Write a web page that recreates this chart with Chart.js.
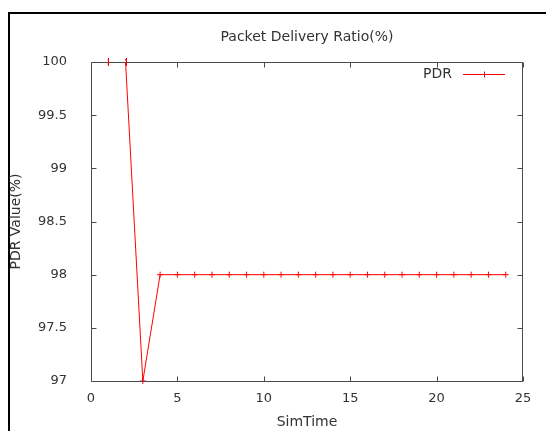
<!DOCTYPE html>
<html>
<head>
<meta charset="utf-8">
<title>Packet Delivery Ratio</title>
<script src="https://cdn.jsdelivr.net/npm/chart.js@4.4.1/dist/chart.umd.min.js"></script>
<style>
  html, body { margin: 0; padding: 0; background: #fff; }
  #wrap { position: relative; width: 546px; height: 431px; overflow: hidden; }
  /* black window edge on top and left, like the screenshot */
  #frame { position: absolute; left: 8px; top: 12px; right: -4px; bottom: -4px;
           border-top: 2px solid #000; border-left: 2px solid #000; }
  #pdrChart { position: absolute; left: 0; top: 0; }
</style>
</head>
<body>
<div id="wrap">
  <div id="frame"></div>
  <canvas id="pdrChart" width="546" height="431"></canvas>
</div>
<script>
// data
const seriesLabel = 'PDR';
const simTime = [1, 2, 3, 4, 5, 6, 7, 8, 9, 10, 11, 12, 13, 14, 15, 16, 17, 18, 19, 20, 21, 22, 23, 24];
const pdrValues = [100, 100, 97, 98, 98, 98, 98, 98, 98, 98, 98, 98, 98, 98, 98, 98, 98, 98, 98, 98, 98, 98, 98, 98];
const xTicks = [0, 5, 10, 15, 20, 25];
const yTicks = [97, 97.5, 98, 98.5, 99, 99.5, 100];

const textColor = '#333';
const borderColor = '#4a4a4a';
const lineColor = '#ff0000';
const fontFamily = '"DejaVu Sans", Verdana, sans-serif';

// gnuplot style border, inward ticks on all four sides and the key
const gnuplotFrame = {
  id: 'gnuplotFrame',
  afterDatasetsDraw(chart) {
    const { ctx, chartArea: a, scales: { x, y } } = chart;
    const L = Math.round(a.left) + 0.5, R = Math.round(a.right) - 0.5;
    const T = Math.round(a.top) + 0.5, B = Math.round(a.bottom) + 0.5;
    const tick = 5;
    ctx.save();
    // the border hides the part of the line that runs along y = 100
    ctx.fillStyle = '#fff';
    ctx.fillRect(L, T - 2, R - L, 2);
    ctx.strokeStyle = borderColor;
    ctx.lineWidth = 1;
    ctx.beginPath();
    ctx.moveTo(L, T); ctx.lineTo(R, T); ctx.lineTo(R, B); ctx.lineTo(L, B); ctx.closePath();
    x.ticks.forEach(t => {
      const px = Math.round(x.getPixelForValue(t.value)) + 0.5;
      ctx.moveTo(px, B); ctx.lineTo(px, B - tick);
      ctx.moveTo(px, T); ctx.lineTo(px, T + tick);
    });
    y.ticks.forEach(t => {
      const py = Math.round(y.getPixelForValue(t.value)) + 0.5;
      ctx.moveTo(L, py); ctx.lineTo(L + tick, py);
      ctx.moveTo(R, py); ctx.lineTo(R - tick, py);
    });
    ctx.stroke();

    // crosses at y = 100 stay visible over the border
    ctx.strokeStyle = lineColor;
    ctx.beginPath();
    chart.getDatasetMeta(0).data.forEach((p, i) => {
      if (pdrValues[i] === 100) {
        const px = Math.round(p.x) + 0.5;
        ctx.moveTo(px, p.y - 4); ctx.lineTo(px, p.y + 4);
      }
    });
    ctx.stroke();

    // key: label text, then the line sample with a cross
    const keyY = 74.5;
    ctx.fillStyle = textColor;
    ctx.font = '14px ' + fontFamily;
    ctx.textAlign = 'right';
    ctx.textBaseline = 'middle';
    ctx.fillText(chart.data.datasets[0].label, 452, keyY);
    ctx.strokeStyle = lineColor;
    ctx.beginPath();
    ctx.moveTo(463, keyY); ctx.lineTo(505, keyY);
    ctx.moveTo(484.5, keyY - 3); ctx.lineTo(484.5, keyY + 3);
    ctx.stroke();
    ctx.restore();
  }
};

const ctx = document.getElementById('pdrChart').getContext('2d');
window.pdrChart = new Chart(ctx, {
  type: 'line',
  data: {
    datasets: [{
      label: seriesLabel,
      data: simTime.map((t, i) => ({ x: t, y: pdrValues[i] })),
      borderColor: lineColor,
      backgroundColor: lineColor,
      borderWidth: 1,
      tension: 0,
      fill: false,
      clip: false,
      pointStyle: 'cross',
      pointRadius: 3,
      pointBorderWidth: 1,
      pointBorderColor: lineColor
    }]
  },
  options: {
    responsive: false,
    animation: false,
    layout: { padding: { left: 0, right: 23, top: 0, bottom: 0 } },
    plugins: {
      legend: { display: false },
      tooltip: { enabled: false },
      title: {
        display: true,
        text: 'Packet Delivery Ratio(%)',
        fullSize: false,
        color: textColor,
        font: { family: fontFamily, size: 14, weight: 'normal' },
        padding: { top: 28.5, bottom: 16.7 }
      }
    },
    scales: {
      x: {
        type: 'linear',
        min: 0,
        max: 25,
        grid: { display: false },
        border: { display: false },
        afterBuildTicks: scale => { scale.ticks = xTicks.map(v => ({ value: v })); },
        afterFit: scale => { scale.height = 50; },
        ticks: { color: textColor, padding: 2, maxRotation: 0, font: { family: fontFamily, size: 13 } },
        title: {
          display: true,
          text: 'SimTime',
          color: textColor,
          padding: { top: -2, bottom: 0 },
          font: { family: fontFamily, size: 14 }
        }
      },
      y: {
        min: 97,
        max: 100,
        grid: { display: false },
        border: { display: false },
        afterBuildTicks: scale => { scale.ticks = yTicks.map(v => ({ value: v })); },
        afterFit: scale => { scale.width = 91; },
        ticks: {
          color: textColor,
          padding: 16,
          font: { family: fontFamily, size: 13 },
          callback: value => String(value)
        },
        title: {
          display: true,
          text: 'PDR Value(%)',
          color: textColor,
          padding: { top: 8, bottom: 0 },
          font: { family: fontFamily, size: 14 }
        }
      }
    }
  },
  plugins: [gnuplotFrame]
});
</script>
</body>
</html>
